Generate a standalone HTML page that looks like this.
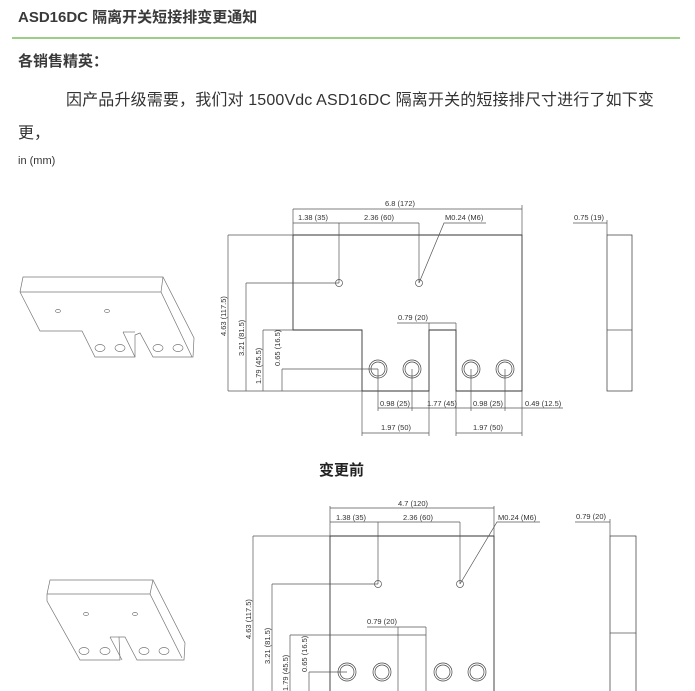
<!DOCTYPE html>
<html><head><meta charset="utf-8"><style>
body{margin:0;background:#fff;width:695px;height:691px;overflow:hidden;position:relative;font-family:"Liberation Sans","Noto Sans CJK SC",sans-serif;color:#333}
.t{position:absolute;white-space:nowrap}
</style></head><body>
<div class="t" style="left:18px;top:6px;font-size:15px;font-weight:bold;color:#3a3a3a">ASD16DC 隔离开关短接排变更通知</div>
<div style="position:absolute;left:12px;top:37px;width:668px;height:2px;background:#9ccf86"></div>
<div class="t" style="left:18px;top:50px;font-size:15px;font-weight:bold;color:#3a3a3a">各销售精英：</div>
<div class="t" style="left:66px;top:86px;font-size:16px;color:#333;letter-spacing:0.15px">因产品升级需要，我们对 1500Vdc ASD16DC 隔离开关的短接排尺寸进行了如下变</div>
<div class="t" style="left:18px;top:119px;font-size:16px;color:#333">更，</div>
<div class="t" style="left:18px;top:155px;font-size:11px;color:#333">in (mm)</div>
<div class="t" style="left:319px;top:459px;font-size:15px;font-weight:bold;color:#222">变更前</div>
<svg width="695" height="691" style="position:absolute;left:0;top:0" font-family="Liberation Sans, sans-serif" font-size="7.5" fill="none" stroke="#555" stroke-width="0.7">
<g stroke="#777">
<polygon points="23,277 163,277 194,338 193,357 153,357 140,333 135,335 135,357 95,357 82,331 40,331 20,292"/>
<polyline points="20,292 161,292 192,357"/>
<line x1="161" y1="292" x2="163" y2="277"/>
<polyline points="123,332 135,357"/><line x1="123" y1="332" x2="135" y2="332"/>
<ellipse cx="58" cy="311" rx="2.5" ry="1.6"/><ellipse cx="107" cy="311" rx="2.5" ry="1.6"/>
<ellipse cx="100" cy="348" rx="5" ry="3.5"/><ellipse cx="120" cy="348" rx="5" ry="3.5"/>
<ellipse cx="158" cy="348" rx="5" ry="3.5"/><ellipse cx="178" cy="348" rx="5" ry="3.5"/>
</g>
<g stroke="#777">
<polygon points="50,580 153,580 185,643 184,660 137,660 125,637 119,637 120,660 80,660 47,601 47,594"/>
<polyline points="47,594 150,594 182,658"/>
<line x1="150" y1="594" x2="153" y2="580"/>
<polyline points="110,637 122,660"/><line x1="110" y1="637" x2="119" y2="637"/>
<ellipse cx="86" cy="614" rx="2.5" ry="1.6"/><ellipse cx="135" cy="614" rx="2.5" ry="1.6"/>
<ellipse cx="84" cy="651" rx="5" ry="3.5"/><ellipse cx="105" cy="651" rx="5" ry="3.5"/>
<ellipse cx="144" cy="651" rx="5" ry="3.5"/><ellipse cx="164" cy="651" rx="5" ry="3.5"/>
</g>
<g>
<polyline points="293,235 522,235 522,391 456,391 456,330 429,330 429,391 362,391 362,330 293,330 293,235" stroke="#333" stroke-width="0.9"/>
<line x1="293" y1="209" x2="293" y2="235"/><line x1="522" y1="205" x2="522" y2="235"/>
<line x1="293" y1="209" x2="522" y2="209"/>
<line x1="293" y1="223" x2="419" y2="223"/>
<line x1="339" y1="223" x2="339" y2="283"/><line x1="419" y1="223" x2="419" y2="283"/>
<line x1="228" y1="235" x2="293" y2="235"/><line x1="228" y1="391" x2="362" y2="391"/>
<line x1="228" y1="235" x2="228" y2="391"/>
<line x1="246" y1="283" x2="339" y2="283"/><line x1="246" y1="283" x2="246" y2="391"/>
<line x1="263" y1="330" x2="293" y2="330"/><line x1="263" y1="330" x2="263" y2="391"/>
<line x1="282" y1="369" x2="378" y2="369"/><line x1="282" y1="369" x2="282" y2="391"/>
<line x1="397" y1="323" x2="456" y2="323"/><line x1="429" y1="323" x2="429" y2="330"/><line x1="456" y1="323" x2="456" y2="330"/>
<line x1="378" y1="408" x2="563" y2="408"/>
<line x1="378" y1="369" x2="378" y2="411"/><line x1="412" y1="369" x2="412" y2="411"/><line x1="471" y1="369" x2="471" y2="411"/><line x1="505" y1="369" x2="505" y2="411"/>
<line x1="522" y1="391" x2="522" y2="436"/><line x1="362" y1="391" x2="362" y2="436"/>
<line x1="429" y1="391" x2="429" y2="436"/><line x1="456" y1="391" x2="456" y2="436"/>
<line x1="362" y1="433" x2="429" y2="433"/><line x1="456" y1="433" x2="522" y2="433"/>
<polyline points="486,223 444,223 419,283"/>
<circle cx="339" cy="283" r="3.5"/><circle cx="419" cy="283" r="3.5"/>
<g stroke="#444"><circle cx="378" cy="369" r="9"/><circle cx="378" cy="369" r="7"/><circle cx="412" cy="369" r="9"/><circle cx="412" cy="369" r="7"/><circle cx="471" cy="369" r="9"/><circle cx="471" cy="369" r="7"/><circle cx="505" cy="369" r="9"/><circle cx="505" cy="369" r="7"/></g>
<rect x="607" y="235" width="25" height="156" stroke="#333"/><line x1="607" y1="330" x2="632" y2="330"/>
<line x1="573" y1="223" x2="607" y2="223"/><line x1="607" y1="220" x2="607" y2="235"/>
</g>
<g fill="#333" stroke="none">
<text x="385" y="206">6.8 (172)</text>
<text x="298" y="220">1.38 (35)</text><text x="364" y="220">2.36 (60)</text><text x="445" y="220">M0.24 (M6)</text>
<text x="398" y="320">0.79 (20)</text>
<text x="380" y="406">0.98 (25)</text><text x="427" y="406">1.77 (45)</text><text x="473" y="406">0.98 (25)</text><text x="525" y="406">0.49 (12.5)</text>
<text x="381" y="430">1.97 (50)</text><text x="473" y="430">1.97 (50)</text>
<text x="574" y="220">0.75 (19)</text>
<text transform="translate(226,336) rotate(-90)">4.63 (117.5)</text>
<text transform="translate(244,356) rotate(-90)">3.21 (81.5)</text>
<text transform="translate(261,384) rotate(-90)">1.79 (45.5)</text>
<text transform="translate(280,366) rotate(-90)">0.65 (16.5)</text>
</g>
<g>
<polyline points="330,691 330,536 494,536 494,691" stroke="#333" stroke-width="0.9"/>
<line x1="330" y1="508" x2="494" y2="508"/><line x1="330" y1="506" x2="330" y2="536"/><line x1="494" y1="506" x2="494" y2="536"/>
<line x1="330" y1="522" x2="460" y2="522"/>
<line x1="378" y1="522" x2="378" y2="584"/><line x1="460" y1="522" x2="460" y2="584"/>
<line x1="253" y1="536" x2="330" y2="536"/><line x1="253" y1="536" x2="253" y2="691"/>
<line x1="272" y1="584" x2="378" y2="584"/><line x1="272" y1="584" x2="272" y2="691"/>
<line x1="290" y1="635" x2="426" y2="635"/><line x1="290" y1="635" x2="290" y2="691"/>
<line x1="309" y1="672" x2="347" y2="672"/><line x1="309" y1="672" x2="309" y2="691"/>
<line x1="367" y1="627" x2="426" y2="627"/><line x1="398" y1="627" x2="398" y2="691"/><line x1="426" y1="627" x2="426" y2="691"/>
<polyline points="540,522 497,522 460,584"/>
<circle cx="378" cy="584" r="3.5"/><circle cx="460" cy="584" r="3.5"/>
<g stroke="#444"><circle cx="347" cy="672" r="9"/><circle cx="347" cy="672" r="7"/><circle cx="382" cy="672" r="9"/><circle cx="382" cy="672" r="7"/><circle cx="443" cy="672" r="9"/><circle cx="443" cy="672" r="7"/><circle cx="477" cy="672" r="9"/><circle cx="477" cy="672" r="7"/></g>
<rect x="610" y="536" width="26" height="160" stroke="#333"/><line x1="610" y1="633" x2="636" y2="633"/>
<line x1="575" y1="522" x2="610" y2="522"/><line x1="610" y1="519" x2="610" y2="536"/>
</g>
<g fill="#333" stroke="none">
<text x="398" y="506">4.7 (120)</text>
<text x="336" y="520">1.38 (35)</text><text x="403" y="520">2.36 (60)</text><text x="498" y="520">M0.24 (M6)</text>
<text x="367" y="624">0.79 (20)</text>
<text x="576" y="519">0.79 (20)</text>
<text transform="translate(251,639) rotate(-90)">4.63 (117.5)</text>
<text transform="translate(270,664) rotate(-90)">3.21 (81.5)</text>
<text transform="translate(288,691) rotate(-90)">1.79 (45.5)</text>
<text transform="translate(307,672) rotate(-90)">0.65 (16.5)</text>
</g>
</svg>
</body></html>
